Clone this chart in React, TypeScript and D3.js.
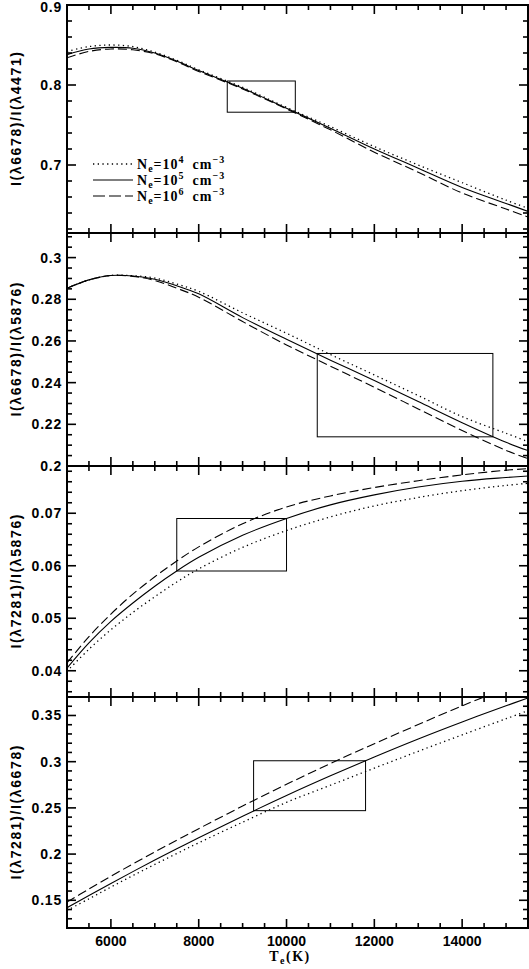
import React from 'react';
import * as d3 from 'd3';

// electron temperature grid (K)
const temps = [5000, 5500, 6000, 6500, 7000, 7500, 8000, 9000, 10000, 11000, 12000, 13000, 14000, 15000, 15500];

// I(6678)/I(4471)
const r1Ne4 = [0.842, 0.848, 0.850, 0.848, 0.841, 0.831, 0.819, 0.797, 0.772, 0.748, 0.723, 0.700, 0.678, 0.656, 0.646];
const r1Ne5 = [0.838, 0.845, 0.847, 0.846, 0.840, 0.830, 0.818, 0.796, 0.771, 0.746, 0.720, 0.696, 0.672, 0.652, 0.642];
const r1Ne6 = [0.834, 0.842, 0.845, 0.844, 0.839, 0.829, 0.817, 0.795, 0.770, 0.744, 0.716, 0.691, 0.665, 0.645, 0.635];

// I(6678)/I(5876)
const r2Ne4 = [0.2853, 0.2893, 0.2914, 0.2913, 0.2902, 0.2873, 0.2838, 0.2735, 0.2637, 0.2535, 0.2437, 0.2338, 0.2237, 0.2157, 0.2117];
const r2Ne5 = [0.2853, 0.2893, 0.2914, 0.2912, 0.2896, 0.2865, 0.2826, 0.2712, 0.2608, 0.2508, 0.2410, 0.2309, 0.2208, 0.2114, 0.2074];
const r2Ne6 = [0.2853, 0.2893, 0.2914, 0.2910, 0.2890, 0.2853, 0.2810, 0.2693, 0.2581, 0.2479, 0.2378, 0.2274, 0.2170, 0.2075, 0.2035];

// I(7281)/I(5876)
const r3Ne4 = [0.0399, 0.0441, 0.0478, 0.0511, 0.0541, 0.0569, 0.0594, 0.0635, 0.0667, 0.0693, 0.0714, 0.0730, 0.0743, 0.0753, 0.0757];
const r3Ne5 = [0.0405, 0.0453, 0.0494, 0.0529, 0.0561, 0.0590, 0.0616, 0.0658, 0.0690, 0.0716, 0.0735, 0.0750, 0.0761, 0.0768, 0.0771];
const r3Ne6 = [0.0415, 0.0465, 0.0508, 0.0546, 0.0579, 0.0609, 0.0636, 0.0680, 0.0712, 0.0733, 0.0749, 0.0762, 0.0773, 0.0782, 0.0785];

// I(7281)/I(6678)
const r4Ne4 = [0.139, 0.1516, 0.1643, 0.1767, 0.1888, 0.2006, 0.2122, 0.2345, 0.2560, 0.2745, 0.2930, 0.3112, 0.3290, 0.3465, 0.3552];
const r4Ne5 = [0.142, 0.1552, 0.1682, 0.1810, 0.1935, 0.2057, 0.2177, 0.2410, 0.2634, 0.2847, 0.3051, 0.3246, 0.3430, 0.3605, 0.3689];
const r4Ne6 = [0.148, 0.1622, 0.1760, 0.1893, 0.2023, 0.2150, 0.2275, 0.2520, 0.2755, 0.2980, 0.3195, 0.3402, 0.3605, 0.3795, 0.3885];

// observed ranges (Te min, Te max, ratio min, ratio max)
const box1 = [8650, 10200, 0.766, 0.805];
const box2 = [10700, 14700, 0.214, 0.254];
const box3 = [7500, 10000, 0.059, 0.069];
const box4 = [9250, 11800, 0.247, 0.301];

const yLabels1 = [0.7, 0.8, 0.9];
const yLabels2 = [0.2, 0.22, 0.24, 0.26, 0.28, 0.3];
const yLabels3 = [0.04, 0.05, 0.06, 0.07];
const yLabels4 = [0.15, 0.2, 0.25, 0.3, 0.35];
const xLabels = [6000, 8000, 10000, 12000, 14000];

const densityExp = ['4', '5', '6'];
const yTitles = ['I(λ6678)/I(λ4471)', 'I(λ6678)/I(λ5876)', 'I(λ7281)/I(λ5876)', 'I(λ7281)/I(λ6678)'];

const W = 529;
const H = 969;
const left = 67;
const right = 528;
const styles = [
  { dash: '1.3 3.4', width: 1.3 },
  { dash: undefined, width: 1.1 },
  { dash: '9 4', width: 1.1 },
];

const panels = [
  { top: 5, bottom: 233, domain: [0.615, 0.9], minor: 0.02, labels: yLabels1, series: [r1Ne4, r1Ne5, r1Ne6], box: box1 },
  { top: 233, bottom: 466, domain: [0.2, 0.3118], minor: 0.005, labels: yLabels2, series: [r2Ne4, r2Ne5, r2Ne6], box: box2 },
  { top: 466, bottom: 697, domain: [0.035, 0.079], minor: 0.002, labels: yLabels3, series: [r3Ne4, r3Ne5, r3Ne6], box: box3 },
  { top: 697, bottom: 928, domain: [0.12, 0.37], minor: 0.01, labels: yLabels4, series: [r4Ne4, r4Ne5, r4Ne6], box: box4 },
];

const sans = 'Liberation Sans, Arial, sans-serif';
const serif = 'Liberation Serif, Times New Roman, serif';

export default function App() {
  const x = d3.scaleLinear().domain([5000, 15500]).range([left, right]);
  const xTicks = d3.range(5000, 15501, 500);

  return (
    <svg width={W} height={H} style={{ position: 'absolute', left: 0, top: 0, background: '#fff' }}>
      <defs>
        {panels.map((p, i) => (
          <clipPath id={`clip${i}`} key={i}>
            <rect x={left} y={p.top} width={right - left} height={p.bottom - p.top} />
          </clipPath>
        ))}
      </defs>
      {panels.map((p, pi) => {
        const y = d3.scaleLinear().domain(p.domain).range([p.bottom, p.top]);
        const line = d3
          .line<number>()
          .x((_, i) => x(temps[i]))
          .y((d) => y(d))
          .curve(d3.curveCatmullRom.alpha(0.5));
        const n0 = Math.ceil(p.domain[0] / p.minor - 1e-6);
        const n1 = Math.floor(p.domain[1] / p.minor + 1e-6);
        const yTicks = d3.range(n0, n1 + 1).map((k) => k * p.minor);
        const isMajor = (v: number) => p.labels.some((l) => Math.abs(l - v) < p.minor / 10);
        const [bx0, bx1, by0, by1] = p.box;
        return (
          <g key={pi}>
            <g clipPath={`url(#clip${pi})`}>
              {p.series.map((s, si) => (
                <path
                  key={si}
                  d={line(s) || ''}
                  fill="none"
                  stroke="#000"
                  strokeWidth={styles[si].width}
                  strokeDasharray={styles[si].dash}
                />
              ))}
              <rect
                x={x(bx0)}
                y={y(by1)}
                width={x(bx1) - x(bx0)}
                height={y(by0) - y(by1)}
                fill="none"
                stroke="#000"
                strokeWidth={1}
              />
            </g>
            {/* frame */}
            <rect x={left} y={p.top} width={right - left} height={p.bottom - p.top} fill="none" stroke="#000" strokeWidth={2} />
            {/* x ticks on top and bottom */}
            {xTicks.map((t) => {
              const len = t % 2000 === 0 ? 9 : 5;
              return (
                <g key={t} stroke="#000" strokeWidth={1.6}>
                  <line x1={x(t)} x2={x(t)} y1={p.bottom} y2={p.bottom - len} />
                  <line x1={x(t)} x2={x(t)} y1={p.top} y2={p.top + len} />
                </g>
              );
            })}
            {/* y ticks on left and right */}
            {yTicks.map((v) => {
              const len = isMajor(v) ? 9 : 5;
              return (
                <g key={v} stroke="#000" strokeWidth={1.6}>
                  <line x1={left} x2={left + len} y1={y(v)} y2={y(v)} />
                  <line x1={right} x2={right - len} y1={y(v)} y2={y(v)} />
                </g>
              );
            })}
            {p.labels.map((v) => (
              <text
                key={v}
                x={62}
                y={Math.max(y(v) + 5, 12)}
                textAnchor="end"
                fontFamily={sans}
                fontWeight="bold"
                fontSize={14}
                letterSpacing={0.8}
              >
                {String(+v.toFixed(3))}
              </text>
            ))}
            <text
              transform={`translate(21,${(p.top + p.bottom) / 2}) rotate(-90)`}
              textAnchor="middle"
              fontFamily={sans}
              fontWeight="bold"
              fontSize={14}
              textLength={134}
              lengthAdjust="spacing"
            >
              {yTitles[pi]}
            </text>
          </g>
        );
      })}

      {/* legend */}
      {densityExp.map((e, i) => {
        const ly = 164 + i * 16;
        return (
          <g key={e}>
            <line
              x1={93}
              x2={133}
              y1={ly}
              y2={ly}
              stroke="#000"
              strokeWidth={styles[i].width}
              strokeDasharray={i === 2 ? '12 4' : styles[i].dash}
            />
            <text x={137} y={ly + 4.5} fontFamily={serif} fontWeight="bold" fontSize={14} letterSpacing={1}>
              <tspan>N</tspan>
              <tspan dy={3} fontSize={10}>e</tspan>
              <tspan dy={-3}>=10</tspan>
              <tspan dy={-6} fontSize={10}>{e}</tspan>
              <tspan dy={6} dx={8}>cm</tspan>
              <tspan dy={-6} fontSize={10}>−3</tspan>
            </text>
          </g>
        );
      })}

      {/* x tick labels */}
      {xLabels.map((t) => (
        <text key={t} x={x(t)} y={946} textAnchor="middle" fontFamily={sans} fontWeight="bold" fontSize={14}>
          {t}
        </text>
      ))}
      <text x={290} y={961} textAnchor="middle" fontFamily={serif} fontWeight="bold" fontSize={14} letterSpacing={1.5}>
        <tspan>T</tspan>
        <tspan dy={3} fontSize={10}>e</tspan>
        <tspan dy={-3}>(K)</tspan>
      </text>
    </svg>
  );
}
